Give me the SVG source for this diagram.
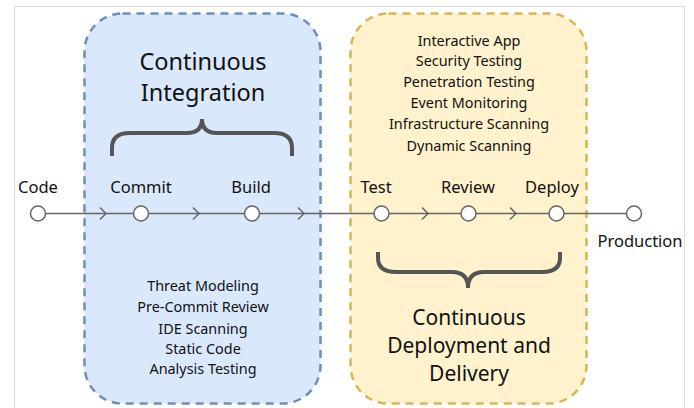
<svg xmlns="http://www.w3.org/2000/svg" width="694" height="408" viewBox="0 0 694 408">
  <style>
    text { font-family: "Noto Sans", "Open Sans", "DejaVu Sans", sans-serif; fill: #111; text-anchor: middle; }
    .title { font-size: 21px; }
    .title-lg { font-size: 23.5px; }
    .stage { font-size: 16.5px; }
    .item { font-size: 14.4px; }
    .zone-ci { fill: #dae8fc; stroke: #6c8ebf; stroke-width: 2.5; stroke-dasharray: 8 6; }
    .zone-cd { fill: #fff2cc; stroke: #d6b656; stroke-width: 2.5; stroke-dasharray: 8 6; }
    .brace { fill: none; stroke: #555; stroke-width: 4; stroke-linecap: butt; }
    .flow { fill: none; stroke: #666; stroke-width: 1.5; }
    .node { fill: #fff; stroke: #666; stroke-width: 1.5; }
  </style>

  <rect width="694" height="408" fill="#fff"/>
  <!-- page frame -->
  <path d="M14.5 408 V6.5 H684.5 V408" fill="none" stroke="#dcdcdc" stroke-width="1"/>

  <!-- stage zones -->
  <g id="zone-ci">
    <rect class="zone-ci" x="84.5" y="13.5" width="236" height="390" rx="38" ry="38"/>
    <text class="title-lg" x="203" y="70">Continuous</text>
    <text class="title-lg" x="203" y="101">Integration</text>
    <path class="brace" d="M112 156 V148 Q112 133 130 133 H187 Q202 133 202 119 Q202 133 217 133 H274 Q292 133 292 148 V156"/>
    <text class="item" x="203" y="291">Threat Modeling</text>
    <text class="item" x="203" y="312">Pre-Commit Review</text>
    <text class="item" x="203" y="334">IDE Scanning</text>
    <text class="item" x="203" y="354">Static Code</text>
    <text class="item" x="203" y="374">Analysis Testing</text>
  </g>

  <g id="zone-cd">
    <rect class="zone-cd" x="350.5" y="13.5" width="236" height="390" rx="38" ry="38"/>
    <text class="item" x="469" y="46">Interactive App</text>
    <text class="item" x="469" y="66">Security Testing</text>
    <text class="item" x="469" y="87">Penetration Testing</text>
    <text class="item" x="469" y="108">Event Monitoring</text>
    <text class="item" x="469" y="129">Infrastructure Scanning</text>
    <text class="item" x="469" y="151">Dynamic Scanning</text>
    <path class="brace" d="M378 252 V258 Q378 272 396 272 H452 Q468 272 468 288 Q468 272 484 272 H542 Q560 272 560 258 V252"/>
    <text class="title" x="469" y="325">Continuous</text>
    <text class="title" x="469" y="353">Deployment and</text>
    <text class="title" x="469" y="381">Delivery</text>
  </g>

  <!-- pipeline connectors -->
  <g id="connectors">
    <line class="flow" x1="38" y1="213.5" x2="634" y2="213.5"/>
    <polyline class="flow" points="100,207.5 106,213.5 100,219.5"/>
    <polyline class="flow" points="193,207.5 199,213.5 193,219.5"/>
    <polyline class="flow" points="298,207.5 304,213.5 298,219.5"/>
    <polyline class="flow" points="422,207.5 428,213.5 422,219.5"/>
    <polyline class="flow" points="510,207.5 516,213.5 510,219.5"/>
  </g>

  <!-- pipeline stages -->
  <g id="node-code">
    <circle class="node" cx="38" cy="213.5" r="7.5"/>
    <text class="stage" x="38" y="193">Code</text>
  </g>
  <g id="node-commit">
    <circle class="node" cx="141" cy="213.5" r="7.5"/>
    <text class="stage" x="141" y="193">Commit</text>
  </g>
  <g id="node-build">
    <circle class="node" cx="252" cy="213.5" r="7.5"/>
    <text class="stage" x="251" y="193">Build</text>
  </g>
  <g id="node-test">
    <circle class="node" cx="381.5" cy="213.5" r="7.5"/>
    <text class="stage" x="376" y="193">Test</text>
  </g>
  <g id="node-review">
    <circle class="node" cx="468.5" cy="213.5" r="7.5"/>
    <text class="stage" x="468" y="193">Review</text>
  </g>
  <g id="node-deploy">
    <circle class="node" cx="556.5" cy="213.5" r="7.5"/>
    <text class="stage" x="552" y="193">Deploy</text>
  </g>
  <g id="node-production">
    <circle class="node" cx="634" cy="213.5" r="7.5"/>
    <text class="stage" x="640" y="247">Production</text>
  </g>
</svg>
